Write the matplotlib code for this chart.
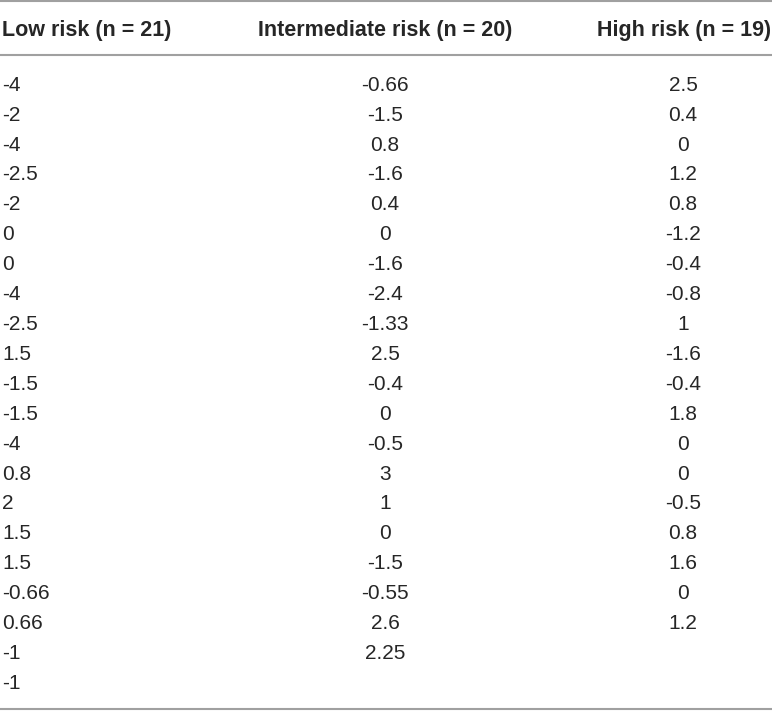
import matplotlib
matplotlib.use("Agg")
import matplotlib.pyplot as plt

headers = ["Low risk (n = 21)", "Intermediate risk (n = 20)", "High risk (n = 19)"]
low_risk = ["-4", "-2", "-4", "-2.5", "-2", "0", "0", "-4", "-2.5", "1.5", "-1.5",
            "-1.5", "-4", "0.8", "2", "1.5", "1.5", "-0.66", "0.66", "-1", "-1"]
intermediate_risk = ["-0.66", "-1.5", "0.8", "-1.6", "0.4", "0", "-1.6", "-2.4", "-1.33",
                     "2.5", "-0.4", "0", "-0.5", "3", "1", "0", "-1.5", "-0.55", "2.6", "2.25"]
high_risk = ["2.5", "0.4", "0", "1.2", "0.8", "-1.2", "-0.4", "-0.8", "1", "-1.6", "-0.4",
             "1.8", "0", "0", "-0.5", "0.8", "1.6", "0", "1.2"]

W, H = 772, 711
plt.rcParams["font.family"] = ["Liberation Sans", "DejaVu Sans"]

fig = plt.figure(figsize=(W / 100, H / 100), dpi=100)
ax = fig.add_axes([0, 0, 1, 1])
ax.set_xlim(0, W)
ax.set_ylim(H, 0)
ax.axis("off")

txt = "#262626"
line_col = "#a0a0a0"

# horizontal rules
for y in (1, 54.5, 709):
    ax.plot([0, W], [y, y], color=line_col, lw=1.5, solid_capstyle="butt")

# header row
hfs = 15.5
ax.text(2, 36, headers[0], ha="left", va="baseline", fontsize=hfs, fontweight="bold", color=txt)
ax.text(385, 36, headers[1], ha="center", va="baseline", fontsize=hfs, fontweight="bold", color=txt)
ax.text(771, 36, headers[2], ha="right", va="baseline", fontsize=hfs, fontweight="bold", color=txt)

# body rows
fs = 15
base0, dy = 90.8, 29.9
for i, v in enumerate(low_risk):
    ax.text(2, base0 + i * dy, v, ha="left", va="baseline", fontsize=fs, color=txt)
for i, v in enumerate(intermediate_risk):
    ax.text(385, base0 + i * dy, v, ha="center", va="baseline", fontsize=fs, color=txt)
for i, v in enumerate(high_risk):
    ax.text(683, base0 + i * dy, v, ha="center", va="baseline", fontsize=fs, color=txt)

fig.savefig("out.png", dpi=100)
